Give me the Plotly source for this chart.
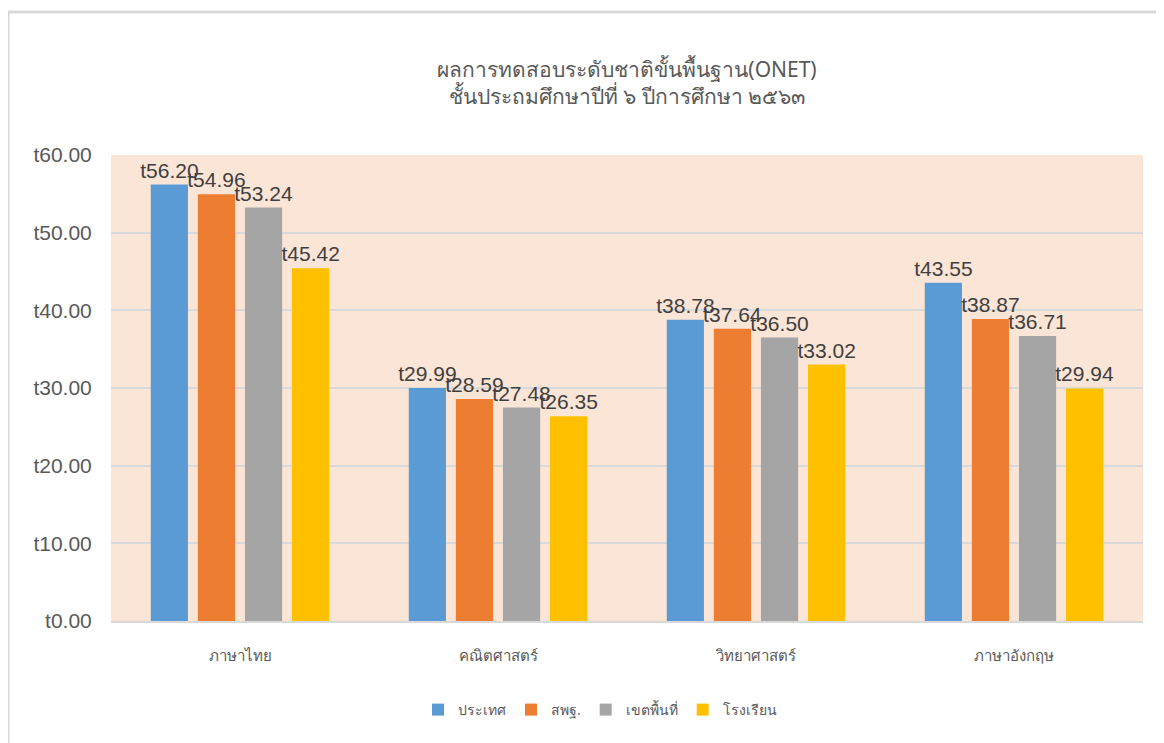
import plotly.graph_objects as go

categories = ["ภาษาไทย", "คณิตศาสตร์", "วิทยาศาสตร์", "ภาษาอังกฤษ"]
series_names = ["ประเทศ", "สพฐ.", "เขตพื้นที่", "โรงเรียน"]
country = [56.20, 29.99, 38.78, 43.55]
obec = [54.96, 28.59, 37.64, 38.87]
area = [53.24, 27.48, 36.50, 36.71]
school = [45.42, 26.35, 33.02, 29.94]
tick_values = [0, 10, 20, 30, 40, 50, 60]
tick_labels = ["t0.00", "t10.00", "t20.00", "t30.00", "t40.00", "t50.00", "t60.00"]
colors = ["#5b9bd5", "#ed7d31", "#a5a5a5", "#ffc000"]

OFF = 8  # page body margin
W, H = 1164 - OFF, 743 - OFF
L, R, T, B = 111 - OFF, 21, 155 - OFF, 122
pw, ph = W - L - R, H - T - B

fig = go.Figure()
for name, vals, c in zip(series_names, [country, obec, area, school], colors):
    fig.add_trace(go.Bar(
        x=categories, y=vals, name=name,
        marker=dict(color=c, line=dict(width=0)),
        text=["t%.2f" % v for v in vals],
        textposition="outside",
        constraintext="none",
        textfont=dict(size=21, color="#404040", family="Liberation Sans, Arial, sans-serif"),
        cliponaxis=False,
    ))

def px_x(x):
    return (x - OFF - L) / pw

def px_y(y):
    return (H - B - (y - OFF)) / ph

fig.add_shape(type="line", xref="paper", yref="paper",
              x0=px_x(8), x1=px_x(8), y0=px_y(12), y1=px_y(760),
              line=dict(color="#d9d9d9", width=3))
fig.add_shape(type="line", xref="paper", yref="paper",
              x0=px_x(8), x1=px_x(1180), y0=px_y(12), y1=px_y(12),
              line=dict(color="#d9d9d9", width=3))

fig.update_layout(
    width=W, height=H,
    margin=dict(l=L, r=R, t=T, b=B),
    paper_bgcolor="white",
    plot_bgcolor="#fbe5d6",
    barmode="group",
    bargap=0.27,
    bargroupgap=0.21,
    title=dict(
        text="ผลการทดสอบระดับชาติขั้นพื้นฐาน(ONET)<br>ชั้นประถมศึกษาปีที่ ๖ ปีการศึกษา ๒๕๖๓",
        x=0.5, xref="paper", xanchor="center",
        y=1 - (77 - OFF) / H, yanchor="middle",
        font=dict(size=21, color="#595959", family="Noto Sans, Liberation Sans, sans-serif"),
    ),
    showlegend=True,
    legend=dict(
        orientation="h", x=px_x(600), xanchor="center", y=px_y(710), yanchor="middle",
        font=dict(size=14, color="#595959"),
        itemwidth=30, traceorder="normal",
    ),
)
fig.update_xaxes(
    showgrid=False, showline=True, linecolor="#d9d9d9", linewidth=2,
    ticks="outside", ticklen=20, tickcolor="rgba(0,0,0,0)",
    tickfont=dict(size=15, color="#595959"),
)
fig.update_yaxes(
    range=[0, 60], tickvals=tick_values, ticktext=tick_labels,
    showgrid=True, gridcolor="#d9d9d9", gridwidth=2,
    zeroline=False, showline=False,
    tickfont=dict(size=21, color="#595959", family="Liberation Sans, Arial, sans-serif"),
    ticks="outside", ticklen=14, tickcolor="rgba(0,0,0,0)",
)

fig.write_html("out.html")
